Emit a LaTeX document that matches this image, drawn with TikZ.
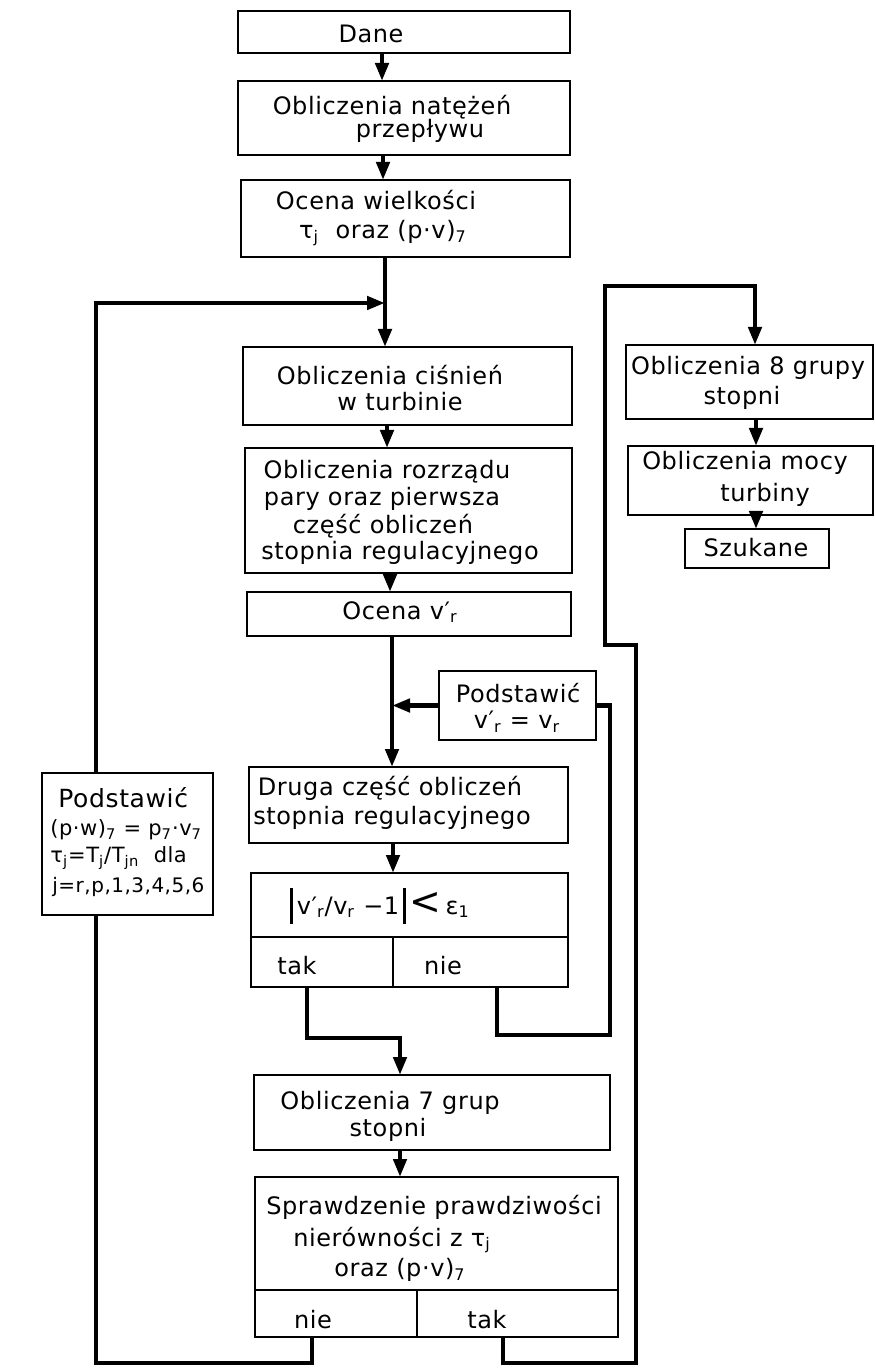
\documentclass[tikz,border=0pt]{standalone}
\usepackage{fontspec}
\setmainfont{DejaVu Sans}[LetterSpace=2.5]
\usetikzlibrary{arrows.meta}
\newcommand\vpr{v′\textsubscript{r}}
\newcommand\vbar{\rule[-5pt]{1.3pt}{18pt}}
\newcommand\bxat[5]{\node[bx, anchor=north west, minimum width={(#4-#2)*0.5pt}, minimum height={(#5-#3)*0.5pt}] (#1) at (#2,#3) {};}
\begin{document}
\begin{tikzpicture}[x=0.5pt,y=-0.5pt,
  bx/.style={draw, line width=1.2pt, inner sep=0pt, outer sep=0pt},
  dv/.style={line width=1.2pt},
  ln/.style={line width=2.2pt},
  arr/.style={ln, -{Triangle[length=9pt,width=6.5pt]}},
  tx/.style={font=\fontsize{12}{14}\selectfont, inner sep=0pt},
  txs/.style={font=\fontsize{10.5}{12}\selectfont, inner sep=0pt, anchor=west}]
\useasboundingbox (0,0) rectangle (875,1368);

% boxes
\bxat{dane}{238}{11}{570}{53}
\bxat{b2}{238}{81}{570}{155}
\bxat{b3}{241}{180}{570}{257}
\bxat{b4}{243}{347}{572}{425}
\bxat{b5}{245}{448}{572}{573}
\bxat{b6}{247}{592}{571}{636}
\bxat{pod}{439}{671}{596}{740}
\bxat{b7}{249}{767}{568}{843}
\bxat{dec}{251}{873}{568}{987}
\bxat{b8}{254}{1075}{610}{1150}
\bxat{chk}{255}{1177}{618}{1337}
\bxat{g8}{626}{345}{873}{419}
\bxat{moc}{628}{446}{873}{515}
\bxat{szuk}{685}{529}{829}{568}
\bxat{podL}{42}{773}{213}{915}

% dividers of the decision boxes
\draw[dv] (251,937) -- (568,937) (393,937) -- (393,987);
\draw[dv] (255,1290) -- (618,1290) (417,1290) -- (417,1337);

% texts
\node[tx] (t1) at (371,34) {Dane};
\node[tx] (t2a) at (392,107) {Obliczenia natężeń};
\node[tx] (t2b) at (420,131) {przepływu};
\node[tx] (t3a) at (376,200) {Ocena wielkości};
\node[tx] (t3b) at (383,233) {τ\textsubscript{j}\ \ oraz\ (p·v)\textsubscript{7}};
\node[tx] (t4a) at (390,375) {Obliczenia ciśnień};
\node[tx] (t4b) at (400,402) {w turbinie};
\node[tx] (t5a) at (387,472) {Obliczenia rozrządu};
\node[tx] (t5b) at (382,499) {pary oraz pierwsza};
\node[tx] (t5c) at (383,526) {część obliczeń};
\node[tx] (t5d) at (400,553) {stopnia regulacyjnego};
\node[tx] (t6) at (400,612) {Ocena \vpr};
\node[tx] (tpa) at (518,693) {Podstawić};
\node[tx] (tpb) at (517,722) {\vpr\ = v\textsubscript{r}};
\node[tx] (t7a) at (390,788) {Druga część obliczeń};
\node[tx] (t7b) at (392,818) {stopnia regulacyjnego};
\node[tx] (tda) at (380,906) {\vbar\,\vpr/v\textsubscript{r} −1\,\vbar\,{\fontsize{19}{19}\selectfont<}\,ε\textsubscript{1}};
\node[tx] (tdb) at (297,966) {tak};
\node[tx] (tdc) at (443,966) {nie};
\node[tx] (t8a) at (390,1103) {Obliczenia 7 grup};
\node[tx] (t8b) at (388,1130) {stopni};
\node[tx] (tca) at (434,1207) {Sprawdzenie prawdziwości};
\node[tx] (tcb) at (392,1240) {nierówności\ z τ\textsubscript{j}};
\node[tx] (tcc) at (400,1270) {oraz (p·v)\textsubscript{7}};
\node[tx] (tcd) at (313,1320) {nie};
\node[tx] (tce) at (487,1320) {tak};
\node[tx] (tga) at (748,368) {Obliczenia 8 grupy};
\node[tx] (tgb) at (742,398) {stopni};
\node[tx] (tma) at (745,463) {Obliczenia mocy};
\node[tx] (tmb) at (765,495) {turbiny};
\node[tx] (ts) at (756,548) {Szukane};
\node[txs,font=\fontsize{12.5}{14}\selectfont] (tla) at (58,798) {Podstawić};
\node[txs] (tlb) at (50,830) {(p·w)\textsubscript{7} = p\textsubscript{7}·v\textsubscript{7}};
\node[txs] (tlc) at (50,858) {τ\textsubscript{j}=T\textsubscript{j}/T\textsubscript{jn}\ \ dla};
\node[txs,font=\fontsize{10}{12}\selectfont] (tld) at (52,887) {j=r,p,1,3,4,5,6};

% column coordinates
\coordinate (c1) at (382,0);
\coordinate (c2) at (383,0);
\coordinate (c3) at (385,0);
\coordinate (c4) at (387,0);
\coordinate (c5) at (390,0);
\coordinate (c6) at (392,0);
\coordinate (c7) at (393,0);
\coordinate (c8) at (400,0);
\coordinate (cr) at (756,0);

% main flow
\draw[arr] (dane.south -| c1) -- (b2.north -| c1);
\draw[arr] (b2.south -| c2) -- (b3.north -| c2);
\draw[arr] (b3.south -| c3) -- (b4.north -| c3);
\draw[arr] (b4.south -| c4) -- (b5.north -| c4);
\draw[arr] (b5.south -| c5) -- (b6.north -| c5);
\draw[arr] (b6.south -| c6) -- (b7.north -| c6);
\draw[arr] (b7.south -| c7) -- (dec.north -| c7);
\draw[arr] (b8.south -| c8) -- (chk.north -| c8);
\draw[arr] (g8.south -| cr) -- (moc.north -| cr);
\draw[arr] (moc.south -| cr) -- (szuk.north -| cr);

% inner loop (nie of first decision)
\coordinate (jB) at (392,705.5);
\draw[arr] (pod.west) -- (jB);
\coordinate (n1) at (497,1035);
\coordinate (n2) at (610,1035);
\draw[ln] (dec.south -| n1) -- (n1) -- (n2) -- (n2 |- pod.east) -- (pod.east);

% tak of first decision
\coordinate (ta1) at (307,1038);
\coordinate (ta2) at (400,1038);
\draw[arr] (dec.south -| ta1) -- (ta1) -- (ta2) -- (b8.north -| ta2);

% outer left loop (nie of second decision)
\coordinate (jA) at (385,303);
\coordinate (n4) at (312,1363);
\coordinate (n5) at (96,1363);
\draw[ln] (chk.south -| n4) -- (n4) -- (n5) -- (podL.south -| n5);
\draw[arr] (podL.north -| n5) -- (n5 |- jA) -- (jA);

% outer right loop (tak of second decision)
\coordinate (o1) at (503,1363);
\coordinate (o2) at (636,1363);
\coordinate (o3) at (636,645);
\coordinate (o4) at (605,645);
\coordinate (o5) at (605,286);
\coordinate (o6) at (755,286);
\draw[arr] (chk.south -| o1) -- (o1) -- (o2) -- (o3) -- (o4) -- (o5) -- (o6) -- (g8.north -| o6);
\end{tikzpicture}
\end{document}
